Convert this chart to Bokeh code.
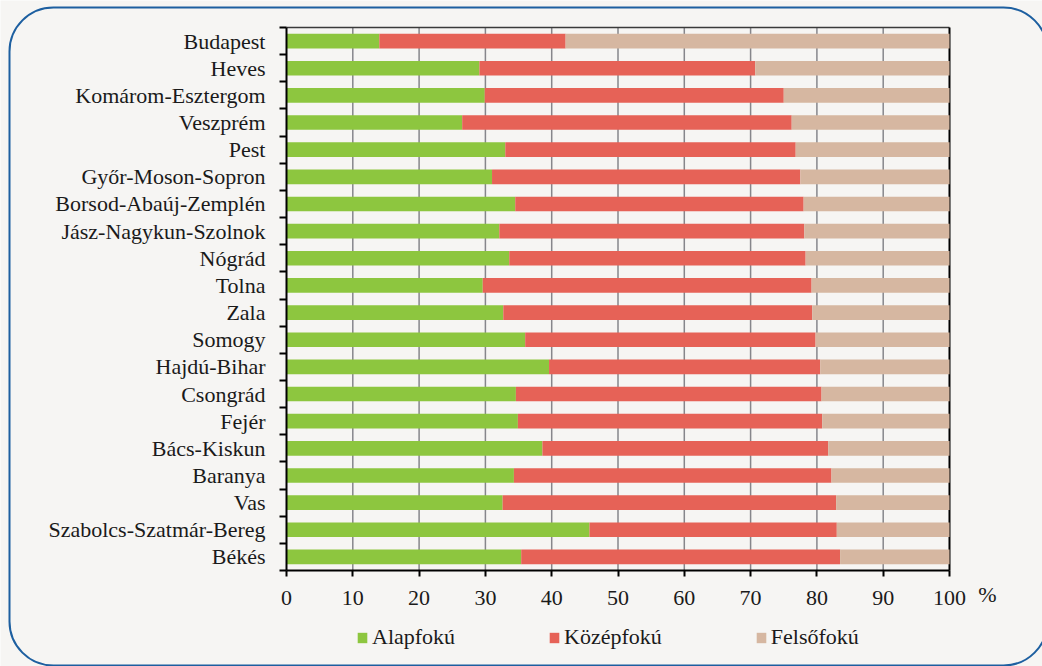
import numpy as np
from bokeh.plotting import figure
from bokeh.models import (FixedTicker, Legend, LegendItem, Label, BoxAnnotation,
                          Range1d, ColumnDataSource)
from bokeh.embed import file_html
from bokeh.resources import INLINE

counties = ["Budapest", "Heves", "Komárom-Esztergom", "Veszprém", "Pest",
            "Győr-Moson-Sopron", "Borsod-Abaúj-Zemplén", "Jász-Nagykun-Szolnok",
            "Nógrád", "Tolna", "Zala", "Somogy", "Hajdú-Bihar", "Csongrád",
            "Fejér", "Bács-Kiskun", "Baranya", "Vas", "Szabolcs-Szatmár-Bereg",
            "Békés"]
alapfoku = [14.0, 29.1, 29.9, 26.5, 33.0, 31.0, 34.5, 32.1, 33.6, 29.6,
            32.7, 36.0, 39.6, 34.6, 34.9, 38.6, 34.3, 32.6, 45.7, 35.4]
kozepfoku = [28.1, 41.6, 45.1, 49.7, 43.8, 46.5, 43.5, 46.0, 44.7, 49.6,
             46.6, 43.8, 40.9, 46.1, 45.9, 43.1, 47.9, 50.3, 37.3, 48.1]
felsofoku = [57.9, 29.3, 25.0, 23.8, 23.2, 22.5, 22.0, 21.9, 21.7, 20.8,
             20.7, 20.2, 19.5, 19.3, 19.2, 18.3, 17.8, 17.1, 17.0, 16.5]
series = ["Alapfokú", "Középfokú", "Felsőfokú"]
colors = ["#8dc63f", "#e66257", "#d6b7a1"]
x_ticks = [0, 10, 20, 30, 40, 50, 60, 70, 80, 90, 100]
unit_label = "%"

FONT = "Liberation Serif, DejaVu Serif, serif"
BG = "#f6f5f3"
TXT = "#1a1a1a"
W, H = 1042, 666

n = len(counties)
ypos = [n - 1 - i for i in range(n)]
y_lo, y_hi = -0.5, n - 0.5          # extent of the bar area
x_lo, x_hi = x_ticks[0], x_ticks[-1]
src = ColumnDataSource(dict(y=ypos, a=alapfoku, k=kozepfoku, f=felsofoku))

# The frame covers the whole canvas; axes are pinned with fixed_location so
# that labels, the unit sign and the legend all live inside the frame.
px_x = 6.63     # pixels per percent
px_y = 27.15    # pixels per row
left_px, top_px = 286, 27
xr = Range1d(-left_px / px_x, (W - left_px) / px_x)
yr = Range1d(y_hi - (H - top_px) / px_y, y_hi + top_px / px_y)

p = figure(width=W, height=H, output_backend="svg", toolbar_location=None,
           x_range=xr, y_range=yr,
           min_border_left=0, min_border_right=0, min_border_top=0,
           min_border_bottom=0)
p.background_fill_color = BG
p.border_fill_color = BG
p.outline_line_color = None
p.xgrid.grid_line_color = None
p.ygrid.grid_line_color = None

# rounded outer frame
def sx(px):
    return xr.start + px / px_x

def sy(py):
    return yr.end - py / px_y

box_kw = dict(left=sx(9), right=sx(1047), top=sy(7), bottom=sy(665),
              fill_alpha=0, line_color="#1d5fa0", line_alpha=1.0, line_width=2)
try:
    frame_box = BoxAnnotation(border_radius=44, **box_kw)
except Exception:
    frame_box = BoxAnnotation(**box_kw)
p.add_layout(frame_box)

# vertical grid lines at the x ticks, limited to the bar area
grid_x = x_ticks[1:-1]
p.segment(x0=grid_x, x1=grid_x, y0=[y_lo] * len(grid_x), y1=[y_hi] * len(grid_x),
          line_color="#86868b", line_width=1.5)
# plot-area border: top (dark grey) and right (black)
p.segment(x0=[x_lo], x1=[x_hi], y0=[y_hi], y1=[y_hi], line_color="#3a3a3a",
          line_width=1.5)
p.segment(x0=[x_hi], x1=[x_hi], y0=[y_lo], y1=[y_hi], line_color="black",
          line_width=2)

rs = p.hbar_stack(["a", "k", "f"], y="y", height=0.54, color=colors,
                  line_color=None, source=src)

# x axis
xa = p.xaxis[0]
xa.fixed_location = y_lo
xa.bounds = (x_lo, x_hi)
xa.ticker = FixedTicker(ticks=x_ticks)
xa.axis_line_color = "black"
xa.axis_line_width = 2
xa.major_tick_line_color = "black"
xa.major_tick_line_width = 2
xa.major_tick_in = 0
xa.major_tick_out = 6
xa.minor_tick_line_color = None
xa.major_label_standoff = 14
xa.major_label_text_font = FONT
xa.major_label_text_font_size = "22px"
xa.major_label_text_color = TXT

# y axis
ya = p.yaxis[0]
ya.fixed_location = x_lo
ya.bounds = (y_lo, y_hi)
ya.ticker = FixedTicker(ticks=ypos, minor_ticks=[v - 0.5 for v in range(n + 1)])
ya.major_label_overrides = {yv: name for yv, name in zip(ypos, counties)}
ya.axis_line_color = "black"
ya.axis_line_width = 2
ya.major_tick_line_color = None
ya.major_tick_in = 0
ya.major_tick_out = 0
ya.minor_tick_line_color = "black"
ya.minor_tick_line_width = 2
ya.minor_tick_in = 0
ya.minor_tick_out = 7
ya.major_label_standoff = 14
ya.major_label_text_font = FONT
ya.major_label_text_font_size = "22px"
ya.major_label_text_color = TXT

p.add_layout(Label(x=105.7, y=-1.37, text=unit_label, text_font=FONT,
                   text_font_size="22px", text_color=TXT,
                   text_align="center", text_baseline="middle"))

legend = Legend(items=[LegendItem(label=s, renderers=[r]) for s, r in zip(series, rs)],
                orientation="horizontal", location=(356, 16), spacing=93,
                padding=0, margin=0, glyph_width=12, glyph_height=13,
                label_standoff=4, label_text_font=FONT,
                label_text_font_size="22px", label_text_color=TXT,
                background_fill_alpha=0, border_line_color=None)
p.add_layout(legend)

open("out.html", "w").write(file_html(p, INLINE))
